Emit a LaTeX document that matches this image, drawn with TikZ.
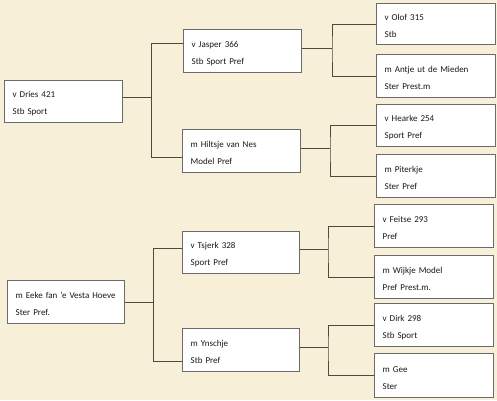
\documentclass[tikz,border=0pt]{standalone}
\usepackage{fontspec}
\setmainfont{Carlito}
\definecolor{bgcol}{HTML}{F8EFD8}
\definecolor{boxline}{HTML}{6A6A6A}
\definecolor{connline}{HTML}{4F4A3C}
\newcommand\pedbox[7]{%
  \node[pedbox, anchor=north west, minimum width={#4pt-#2pt}, minimum height={#5pt-#3pt},
        text width={#4pt-#2pt-16pt}] (#1) at (#2,#3) {\rule{0pt}{10.5pt}#6\\#7};}
\begin{document}
\begin{tikzpicture}[x=1pt,y=-1pt,
  pedbox/.style={draw=boxline, line width=1.3pt, fill=white, inner xsep=8pt, inner ysep=0pt,
    align=left, text=black!90, font=\fontsize{9}{17}\selectfont},
  conn/.style={draw=connline, line width=1pt}]
\fill[bgcol] (0,0) rectangle (497,400);
\useasboundingbox (0,0) rectangle (497,400);
% generation 1
\pedbox{dries}{4}{80}{122}{122}{v Dries 421}{Stb Sport}
\pedbox{eeke}{7}{280}{124}{323}{m Eeke fan 'e Vesta Hoeve}{Ster Pref.}
% generation 2
\pedbox{jasper}{183}{29}{301}{72}{v Jasper 366}{Stb Sport Pref}
\pedbox{hiltsje}{182}{129}{300}{172}{m Hiltsje van Nes}{Model Pref}
\pedbox{tsjerk}{182}{231}{299}{273}{v Tsjerk 328}{Sport Pref}
\pedbox{ynschje}{182}{328}{299}{371}{m Ynschje}{Stb Pref}
% generation 3
\pedbox{olof}{376}{3}{495}{44}{v Olof 315}{Stb}
\pedbox{antje}{376}{54}{495}{97}{m Antje ut de Mieden}{Ster Prest.m}
\pedbox{hearke}{376}{104}{495}{146}{v Hearke 254}{Sport Pref}
\pedbox{piterkje}{376}{154}{495}{197}{m Piterkje}{Ster Pref}
\pedbox{feitse}{374}{204}{493}{247}{v Feitse 293}{Pref}
\pedbox{wijkje}{374}{255}{493}{298}{m Wijkje Model}{Pref Prest.m.}
\pedbox{dirk}{374}{303}{493}{346}{v Dirk 298}{Stb Sport}
\pedbox{gee}{374}{353}{493}{397}{m Gee}{Ster}
% junction points
\coordinate (a1) at (151,43);
\coordinate (a2) at (151,157);
\coordinate (a0) at (151,97);
\coordinate (b1) at (153,248);
\coordinate (b2) at (153,361);
\coordinate (b0) at (153,302);
\coordinate (c0) at (332,48);
\coordinate (d0) at (330,148);
\coordinate (e0) at (328,249);
\coordinate (f0) at (328,347);
% gen 1 -> gen 2
\draw[conn] (dries.east |- a0) -- (a0);
\draw[conn] (jasper.west |- a1) -- (a1) -- (a2) -- (hiltsje.west |- a2);
\draw[conn] (eeke.east |- b0) -- (b0);
\draw[conn] (tsjerk.west |- b1) -- (b1) -- (b2) -- (ynschje.west |- b2);
% gen 2 -> gen 3
\draw[conn] (jasper.east |- c0) -- (c0);
\draw[conn] (olof.west) -| (c0) |- (antje.west);
\draw[conn] (hiltsje.east |- d0) -- (d0);
\draw[conn] (hearke.west) -| (d0) |- (piterkje.west);
\draw[conn] (tsjerk.east |- e0) -- (e0);
\draw[conn] (feitse.west) -| (e0) |- (wijkje.west);
\draw[conn] (ynschje.east |- f0) -- (f0);
\draw[conn] (dirk.west) -| (f0) |- (gee.west);
\end{tikzpicture}
\end{document}
